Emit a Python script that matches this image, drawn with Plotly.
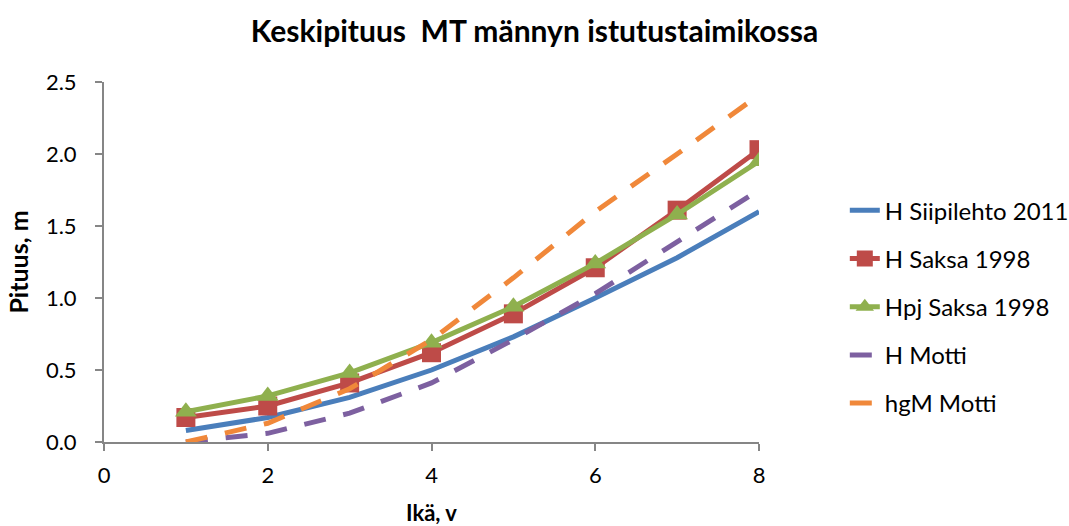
import plotly.graph_objects as go

ika = [1, 2, 3, 4, 5, 6, 7, 8]
h_siipilehto = [0.08, 0.17, 0.31, 0.50, 0.73, 1.00, 1.28, 1.60]
h_saksa = [0.17, 0.25, 0.41, 0.62, 0.89, 1.21, 1.61, 2.03]
hpj_saksa = [0.21, 0.32, 0.48, 0.69, 0.94, 1.24, 1.58, 1.95]
h_motti = [0.0, 0.06, 0.20, 0.41, 0.71, 1.03, 1.39, 1.75]
hgm_motti = [0.0, 0.13, 0.37, 0.71, 1.14, 1.60, 2.00, 2.41]

names = ["H Siipilehto 2011", "H Saksa 1998", "Hpj Saksa 1998", "H Motti", "hgM Motti"]
colors = ["#4A7EBB", "#BE4B48", "#8FB04E", "#7D60A0", "#F0883A"]

FONT = "Lato"
LW = 5
DASH = "22px,18px"

fig = go.Figure()
fig.add_trace(go.Scatter(x=ika, y=h_siipilehto, name=names[0], mode="lines",
                         line=dict(color=colors[0], width=LW), legendgroup="a"))
fig.add_trace(go.Scatter(x=ika, y=h_saksa, name=names[1], mode="lines+markers",
                         line=dict(color=colors[1], width=LW),
                         marker=dict(symbol="square", size=19, color=colors[1]), legendgroup="b"))
fig.add_trace(go.Scatter(x=ika, y=hpj_saksa, name=names[2], mode="lines+markers",
                         line=dict(color=colors[2], width=LW),
                         marker=dict(symbol="triangle-up", size=19, color=colors[2]), legendgroup="c"))
fig.add_trace(go.Scatter(x=ika, y=h_motti, name=names[3], mode="lines",
                         line=dict(color=colors[3], width=LW, dash=DASH), legendgroup="d"))
fig.add_trace(go.Scatter(x=ika, y=hgm_motti, name=names[4], mode="lines",
                         line=dict(color=colors[4], width=LW, dash=DASH), legendgroup="e"))

axis_common = dict(
    showgrid=False, zeroline=False, showline=True, linecolor="#868686", linewidth=2,
    ticks="outside", tickcolor="#868686", ticklen=7, tickwidth=2, automargin=False,
    tickfont=dict(family=FONT, size=22, color="#000000"),
)

fig.update_layout(
    width=1069, height=526,
    margin=dict(l=104, r=310, t=82, b=84, autoexpand=False),
    paper_bgcolor="white", plot_bgcolor="white",
    title=dict(text="<b>Keskipituus  MT männyn istutustaimikossa</b>", x=0.5, xref="container",
               xanchor="center", y=0.94, yanchor="middle",
               font=dict(family=FONT, size=30, color="#000000")),
    xaxis=dict(range=[0, 8], tickvals=[0, 2, 4, 6, 8], ticktext=["0", "2", "4", "6", "8"],
               ticklabelstandoff=6,
               title=dict(text="<b>Ikä, v</b>", font=dict(family=FONT, size=22, color="#000000"), standoff=23),
               **axis_common),
    yaxis=dict(range=[0, 2.5], tickvals=[0, 0.5, 1.0, 1.5, 2.0, 2.5],
               ticktext=["0.0", "0.5", "1.0", "1.5", "2.0", "2.5"],
               ticklabelstandoff=14,
               title=dict(text="<b>Pituus, m</b>", font=dict(family=FONT, size=25, color="#000000"), standoff=10),
               **axis_common),
    legend=dict(x=1.131, y=0.705, xanchor="left", yanchor="top",
                font=dict(family=FONT, size=24, color="#000000"),
                tracegroupgap=14, bgcolor="rgba(0,0,0,0)"),
    showlegend=True,
)

fig.write_html("out.html")
